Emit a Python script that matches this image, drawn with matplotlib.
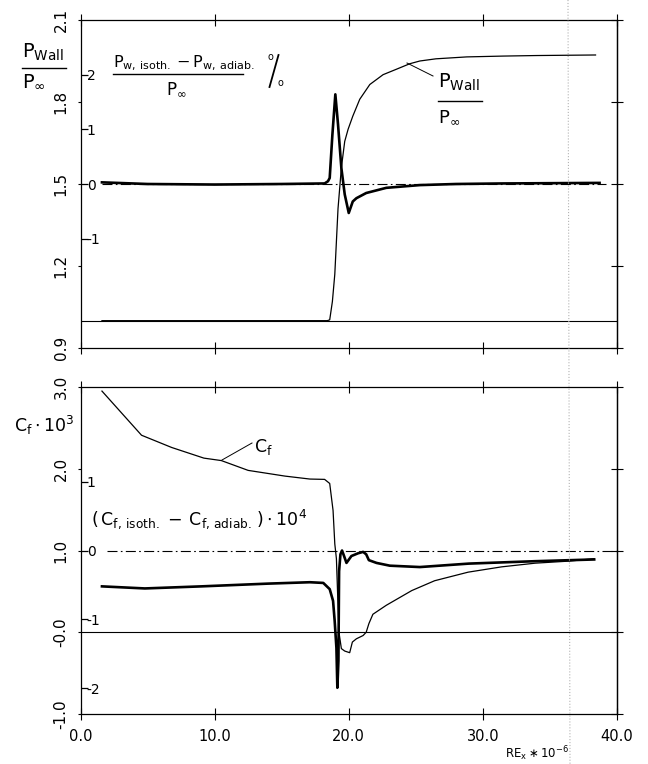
import matplotlib
matplotlib.use("Agg")
import matplotlib.pyplot as plt
from matplotlib.lines import Line2D

plt.rcParams['font.family'] = 'DejaVu Sans'
plt.rcParams['mathtext.default'] = 'regular'
plt.rcParams['axes.unicode_minus'] = False

# --- values ---
# top: wall pressure ratio P_wall / P_inf (outer axis)
p_x = [1.6, 18.4, 18.58, 18.78, 18.96, 19.2, 19.45, 19.7, 19.95, 20.3, 20.82,
       21.57, 22.56, 23.56, 24.55, 25.3, 26.5, 28.8, 31.5, 34.0, 38.4]
p_ratio = [1.0, 1.0, 1.003, 1.07, 1.17, 1.41, 1.56, 1.656, 1.70, 1.748, 1.81,
           1.864, 1.90, 1.92, 1.94, 1.95, 1.958, 1.965, 1.968, 1.97, 1.972]

# top: (P_w,isoth - P_w,adiab) / P_inf in % (inner axis)
dp_x = [1.6, 5.0, 10.0, 15.0, 18.2, 18.45, 18.58, 18.78, 19.0, 19.2, 19.45,
        19.7, 20.0, 20.3, 20.57, 21.3, 22.8, 25.3, 28.0, 31.5, 38.7]
dp_pct = [0.03, 0.0, -0.01, 0.0, 0.01, 0.05, 0.11, 0.9, 1.64, 1.09, 0.29,
          -0.19, -0.53, -0.32, -0.26, -0.165, -0.07, -0.02, 0.0, 0.01, 0.02]

# bottom: skin friction Cf * 10^3 (outer axis)
cf_x = [1.6, 4.55, 6.8, 9.2, 10.5, 12.5, 15.25, 17.1, 18.2, 18.58, 18.83,
        18.96, 19.08, 19.27, 19.45, 19.7, 20.07, 20.27, 20.57, 21.07, 21.3,
        21.5, 21.8, 22.8, 24.7, 26.4, 28.9, 31.4, 33.9, 36.4, 38.3]
cf = [2.95, 2.41, 2.26, 2.13, 2.10, 1.98, 1.91, 1.874, 1.87, 1.82, 1.49,
      1.08, 0.9, 0.0, -0.2, -0.23, -0.25, -0.12, -0.08, -0.04, 0.0,
      0.105, 0.22, 0.33, 0.51, 0.63, 0.735, 0.80, 0.845, 0.87, 0.90]

# bottom: (Cf,isoth - Cf,adiab) * 10^4 (inner axis)
dcf_x = [1.6, 4.8, 9.0, 14.0, 17.1, 18.1, 18.58, 18.83, 18.95, 19.08, 19.15,
         19.23, 19.28, 19.38, 19.5, 19.65, 19.83, 20.2, 20.7, 21.07, 21.3,
         21.5, 22.07, 23.06, 25.3, 28.95, 33.9, 38.3]
dcf = [-0.52, -0.55, -0.52, -0.48, -0.46, -0.47, -0.56, -0.73, -1.02, -1.41, -1.99,
       -1.6, -0.3, -0.055, 0.0, -0.08, -0.18, -0.08, -0.04, -0.02, -0.055,
       -0.14, -0.18, -0.22, -0.24, -0.19, -0.155, -0.13]

x_ticks = [0, 10, 20, 30, 40]
x_labels = ['0.0', '10.0', '20.0', '30.0', '40.0']
top_yticks = [0.9, 1.2, 1.5, 1.8, 2.1]
top_ylabels = ['0.9', '1.2', '1.5', '1.8', '2.1']
top_inner_ticks = [-1, 0, 1, 2]
bot_yticks = [-1.0, 0.0, 1.0, 2.0, 3.0]
bot_ylabels = ['-1.0', '-0.0', '1.0', '2.0', '3.0']
bot_inner_ticks = [-2, -1, 0, 1]

W, H = 648, 764
fig = plt.figure(figsize=(W / 100, H / 100), dpi=100)


def fx(px):
    return px / W


def fy(py):
    return 1 - py / H


LEFT, RIGHT = 80.5, 617
ax_top = fig.add_axes([fx(LEFT), fy(348), fx(RIGHT) - fx(LEFT), fy(20) - fy(348)])
ax_bot = fig.add_axes([fx(LEFT), fy(714), fx(RIGHT) - fx(LEFT), fy(387) - fy(714)])


def frame(ax, yticks, ylabels, ylim, inner_ticks, inner_lim, show_x):
    ax.set_xlim(0, 40)
    ax.set_ylim(*ylim)
    ax.set_xticks(x_ticks)
    ax.set_xticklabels(x_labels)
    ax.tick_params(axis='x', direction='inout', length=8, width=0.8,
                   top=True, bottom=True, labelbottom=show_x, labelsize=10.5, pad=6.5)
    ax.set_yticks(yticks)
    ax.set_yticklabels(ylabels, rotation=90, va='center')
    ax.tick_params(axis='y', direction='out', length=2.5, width=0.8, pad=6, labelsize=11)
    for s in ax.spines.values():
        s.set_linewidth(0.9)
    # cross ticks on right frame
    sec = ax.secondary_yaxis('right')
    sec.set_yticks(yticks)
    sec.set_yticklabels([])
    sec.tick_params(direction='inout', length=8, width=0.8)
    sec.spines['right'].set_linewidth(0.9)
    # inner scale drawn on the left frame, labels inside
    inner = ax.twinx()
    inner.set_ylim(*inner_lim)
    inner.yaxis.tick_left()
    inner.set_yticks(inner_ticks)
    inner.tick_params(axis='y', direction='in', length=5, width=0.9, pad=-4.5,
                      labelsize=10, right=False, labelright=False)
    for t in inner.yaxis.get_major_ticks():
        t.label1.set_horizontalalignment('left')
    for s in inner.spines.values():
        s.set_visible(False)
    return inner


in_top = frame(ax_top, top_yticks, top_ylabels, (0.9, 2.1), top_inner_ticks, (-3.0, 3.0), False)
in_bot = frame(ax_bot, bot_yticks, bot_ylabels, (-1.0, 3.0), bot_inner_ticks, (-2.37, 2.37), True)

dashdot = (0, (9, 3, 1.5, 3))

# top panel
ax_top.axhline(1.0, color='black', lw=0.8)
ax_top.plot(p_x, p_ratio, color='black', lw=0.9)
in_top.hlines(0, 1.6, 39.2, colors='black', lw=0.8, linestyles=[dashdot])
in_top.plot(dp_x, dp_pct, color='black', lw=1.9)

# bottom panel
ax_bot.axhline(0.0, color='black', lw=0.8)
ax_bot.plot(cf_x, cf, color='black', lw=0.9)
in_bot.hlines(0, 2.0, 40, colors='black', lw=0.8, linestyles=[dashdot])
in_bot.plot(dcf_x, dcf, color='black', lw=1.9)


def seg(x0, y0, x1, y1, lw=1.0):
    fig.add_artist(Line2D([fx(x0), fx(x1)], [fy(y0), fy(y1)], color='black', lw=lw))


# top-left axis title
fig.text(fx(22), fy(58), r'$P_{Wall}$', fontsize=14, va='baseline')
seg(22, 68, 66, 68)
fig.text(fx(22), fy(87), r'$P_{\infty}$', fontsize=14, va='baseline')

# inner scale title
fig.text(fx(113), fy(67), r'$P_{w,\,isoth.} - P_{w,\,adiab.}$', fontsize=11.5, va='baseline')
seg(113, 74, 243, 74)
fig.text(fx(176), fy(94), r'$P_{\infty}$', fontsize=12, va='baseline', ha='center')
# per cent sign as drawn in the original: small o, long slash, small o
seg(269.5, 87, 278.5, 55, lw=1.3)
fig.text(fx(273.5), fy(57.5), 'o', fontsize=7, va='center', ha='right')
fig.text(fx(278), fy(83), 'o', fontsize=7, va='center', ha='left')

# curve label, top
fig.text(fx(438), fy(88), r'$P_{Wall}$', fontsize=14, va='baseline')
seg(438, 101, 482, 101)
fig.text(fx(438), fy(122), r'$P_{\infty}$', fontsize=13, va='baseline')
seg(433, 76, 407, 63, lw=0.7)

# bottom labels
fig.text(fx(14), fy(432), r'$C_f\cdot10^3$', fontsize=12.5, va='baseline')
fig.text(fx(254), fy(452), r'$C_f$', fontsize=12.5, va='baseline')
seg(252, 443, 222, 460, lw=0.7)
fig.text(fx(91), fy(525), r'$(\,C_{f,\,isoth.}\,-\,C_{f,\,adiab.}\,)\cdot10^4$',
         fontsize=12.5, va='baseline')
fig.text(fx(505), fy(758), r'$RE_x\ast10^{-6}$', fontsize=8.5, va='baseline')

# faint fold line of the scanned page
fig.add_artist(Line2D([fx(568), fx(570)], [1, 0], color='0.7', lw=0.8, ls=':'))

fig.savefig('out.png', dpi=100)
